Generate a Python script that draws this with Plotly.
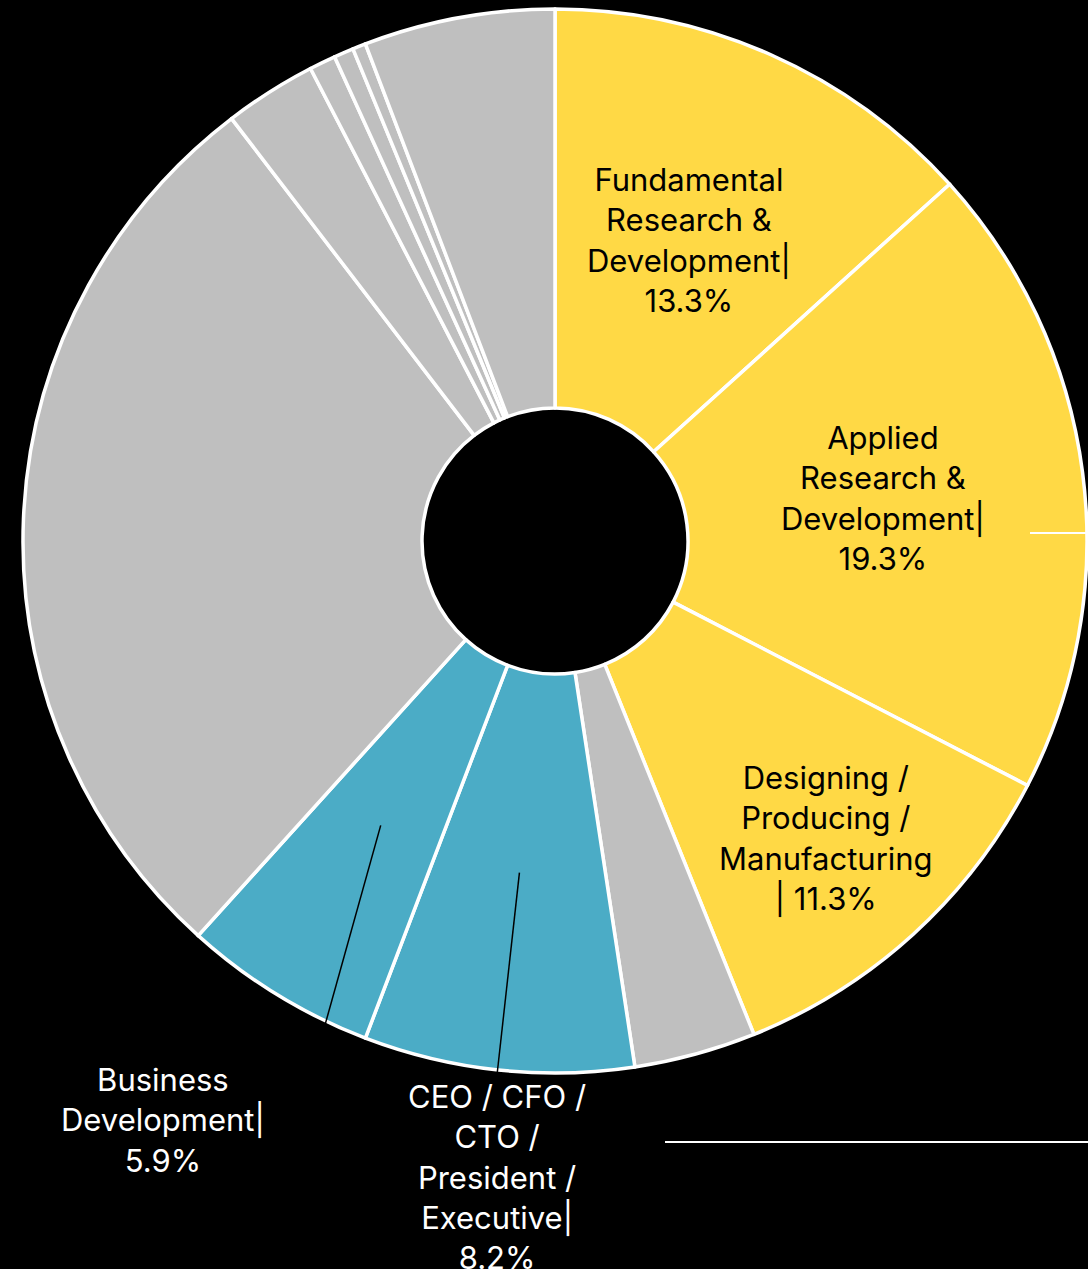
import numpy as np
import plotly.graph_objects as go

# ---- data ----
categories = [
    "Fundamental Research & Development",
    "Applied Research & Development",
    "Designing / Producing / Manufacturing",
    "Other 1",
    "CEO / CFO / CTO / President / Executive",
    "Business Development",
    "Other 2",
    "Other 3",
    "Other 4",
    "Other 5",
    "Other 6",
    "Other 7",
]
values = [13.3, 19.3, 11.3, 3.7, 8.2, 5.9, 27.9, 2.8, 0.8, 0.6, 0.4, 5.8]
label_texts = {
    0: "Fundamental<br>Research &<br>Development|<br>13.3%",
    1: "Applied<br>Research &<br>Development|<br>19.3%",
    2: "Designing /<br>Producing /<br>Manufacturing<br>| 11.3%",
    4: "CEO / CFO /<br>CTO /<br>President /<br>Executive|<br>8.2%",
    5: "Business<br>Development|<br>5.9%",
}

YELLOW = "#FFD945"
BLUE = "#4BACC6"
GRAY = "#BFBFBF"
colors = [YELLOW, YELLOW, YELLOW, GRAY, BLUE, BLUE, GRAY, GRAY, GRAY, GRAY, GRAY, GRAY]

W, H = 1088, 1269
CX, CY, R = 555, 541, 532  # pie center / radius in pixels
FONT = "Inter"
FSIZE = 31


def px(x, y):
    return x / W, 1 - y / H


# slice mid angles (degrees clockwise from 12 o'clock)
tot = sum(values)
cum = np.cumsum([0] + values)
mids = [(cum[i] + cum[i + 1]) / 2 / tot * 360 for i in range(len(values))]


def polar(i, rfrac):
    a = np.deg2rad(mids[i])
    r = rfrac * R
    return CX + r * np.sin(a), CY - r * np.cos(a)


fig = go.Figure()
fig.add_trace(
    go.Pie(
        labels=categories,
        values=values,
        sort=False,
        direction="clockwise",
        rotation=0,
        hole=0.25,
        textinfo="none",
        hoverinfo="label+percent",
        marker=dict(colors=colors, line=dict(color="white", width=3.5)),
        domain=dict(x=[(CX - R) / W, (CX + R) / W], y=[1 - (CY + R) / H, 1 - (CY - R) / H]),
        showlegend=False,
    )
)

annotations = []
shapes = []

# inside labels on yellow slices
inside_r = {0: 0.62, 1: 0.622, 2: 0.757}
for i, rf in inside_r.items():
    x, y = polar(i, rf)
    ax_, ay_ = px(x, y)
    annotations.append(
        dict(x=ax_, y=ay_, xref="paper", yref="paper", text=label_texts[i], showarrow=False,
             xanchor="center", yanchor="middle", align="center",
             font=dict(family=FONT, size=FSIZE, color="black"))
    )

# outside labels on blue slices with leader lines
outside = {
    5: dict(label=(163, 1120), line_end=(325, 1025)),
    4: dict(label=(497, 1177), line_end=(497, 1075)),
}
for i, o in outside.items():
    lx, ly = px(*o["label"])
    annotations.append(
        dict(x=lx, y=ly, xref="paper", yref="paper", text=label_texts[i], showarrow=False,
             xanchor="center", yanchor="middle", align="center",
             font=dict(family=FONT, size=FSIZE, color="white"))
    )
    sx, sy = polar(i, 0.627)
    x0, y0 = px(sx, sy)
    x1, y1 = px(*o["line_end"])
    shapes.append(dict(type="line", xref="paper", yref="paper", x0=x0, y0=y0, x1=x1, y1=y1,
                       line=dict(color="black", width=1.5)))

# white leader lines of labels outside the visible area
for (a, b) in [((1030, 533), (1088, 533)), ((665, 1142), (1088, 1142))]:
    x0, y0 = px(*a)
    x1, y1 = px(*b)
    shapes.append(dict(type="line", xref="paper", yref="paper", x0=x0, y0=y0, x1=x1, y1=y1,
                       line=dict(color="white", width=2)))

fig.update_layout(
    width=W,
    height=H,
    margin=dict(l=0, r=0, t=0, b=0),
    paper_bgcolor="black",
    plot_bgcolor="black",
    annotations=annotations,
    shapes=shapes,
    font=dict(family=FONT),
)

fig.write_html(
    "out.html",
    config={"displayModeBar": False},
    post_script="document.body.style.margin='0';document.body.style.background='black';",
)
